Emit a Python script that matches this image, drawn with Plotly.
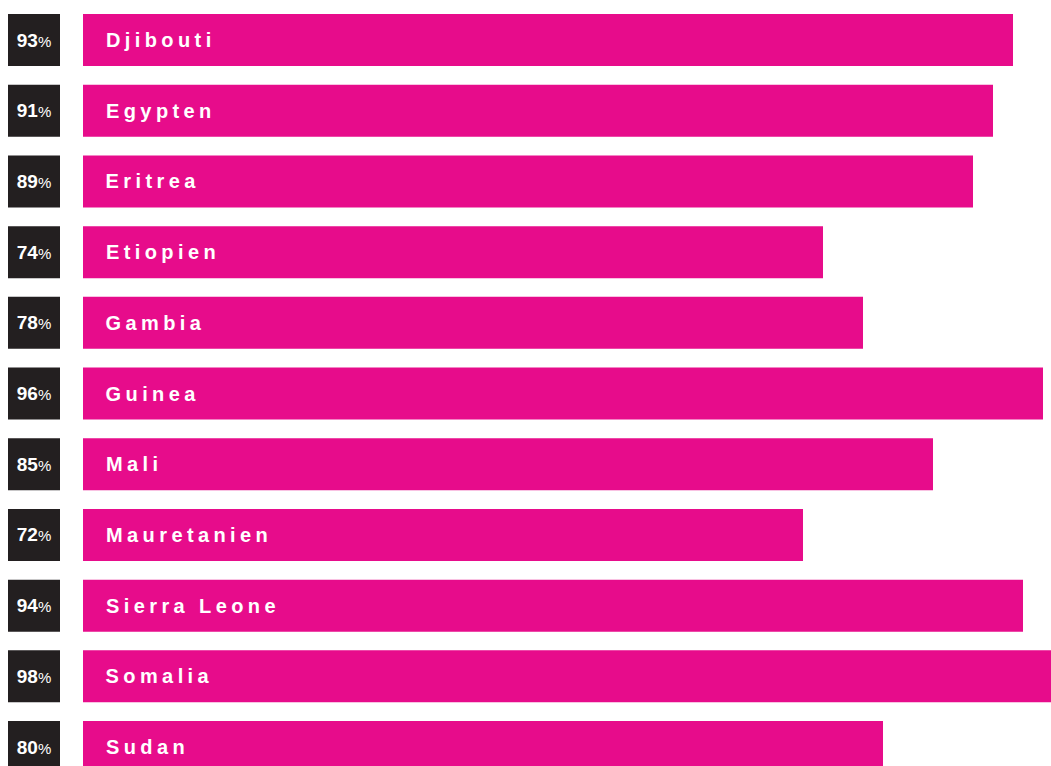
import plotly.graph_objects as go

countries = ["Djibouti", "Egypten", "Eritrea", "Etiopien", "Gambia", "Guinea",
             "Mali", "Mauretanien", "Sierra Leone", "Somalia", "Sudan"]
values = [93, 91, 89, 74, 78, 96, 85, 72, 94, 98, 80]

PINK = "#E70C8B"
DARK = "#231F20"
FONT = "Liberation Sans, Arial, Helvetica, sans-serif"

box_base = -7.5
box_len = 5.2

fig = go.Figure()

# dark percentage boxes
fig.add_trace(go.Bar(
    y=countries, x=[box_len] * len(countries), base=[box_base] * len(countries),
    orientation="h", marker=dict(color=DARK, line=dict(width=0)),
    width=0.7355,
    text=[f"<b>{v}</b><span style='font-size:15px'>%</span>" for v in values],
    textposition="inside", insidetextanchor="middle", textangle=0,
    insidetextfont=dict(family=FONT, size=19, color="white"),
    constraintext="none", hoverinfo="skip", showlegend=False,
))

# pink value bars
fig.add_trace(go.Bar(
    y=countries, x=values, orientation="h",
    marker=dict(color=PINK, line=dict(width=0)),
    width=0.7355, hoverinfo="skip", showlegend=False,
))

for c in countries:
    fig.add_annotation(
        x=0, y=c, xref="x", yref="y", text=f"<b>{c}</b>", showarrow=False,
        xanchor="left", xshift=21, yanchor="middle",
        font=dict(family=FONT, size=20, color="white"),
    )

fig.update_layout(
    width=1051, height=766, margin=dict(l=0, r=0, t=0, b=0),
    paper_bgcolor="white", plot_bgcolor="white", barmode="overlay",
    xaxis=dict(range=[-8.3, 96.8], visible=False, fixedrange=True),
    yaxis=dict(range=[10.268, -0.566], visible=False, fixedrange=True,
               type="category", categoryorder="array", categoryarray=countries),
)

post = """
document.head.insertAdjacentHTML('beforeend', '<style>body{margin:0;overflow:hidden;}</style>');
document.querySelectorAll('.annotation-text').forEach(function(t){
  var w0 = t.getBBox().width;
  t.style.letterSpacing = '4.4px';
  var w1 = t.getBBox().width;
  var x = parseFloat(t.getAttribute('x') || '0');
  t.setAttribute('x', x + (w1 - w0) / 2);
});
"""
fig.write_html("out.html", post_script=post,
               config={"displayModeBar": False, "staticPlot": True})
